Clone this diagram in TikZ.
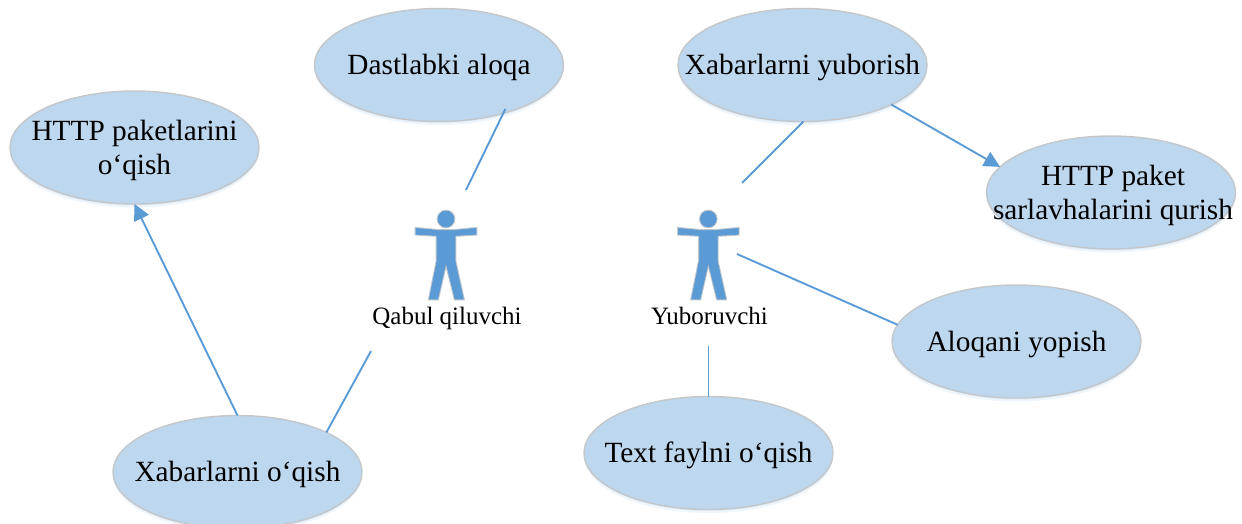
\documentclass[tikz,border=0pt]{standalone}
\usepackage{fontspec}
\setmainfont{Liberation Serif}
\usetikzlibrary{arrows.meta,shapes.geometric,shadows}
\definecolor{linkblue}{HTML}{5B9BD5}
\definecolor{ellfill}{HTML}{BDD7EE}
\definecolor{ellrim}{HTML}{C4C7CA}
\newcommand{\etext}[1]{\makebox[0pt]{\raisebox{-9pt}[0pt][0pt]{\begin{tabular}{@{}c@{}}#1\end{tabular}}}}
\tikzset{
  usecase/.style={ellipse,draw=ellrim,line width=1.4pt,fill=ellfill,minimum width=249pt,minimum height=113pt,
    inner sep=0pt,outer sep=0pt,font=\fontsize{29.3}{34}\selectfont,text=black,
    general shadow={fill=linkblue,opacity=.10,shadow yshift=-3.5pt},
    general shadow={fill=linkblue,opacity=.10,shadow yshift=-1.5pt}},
  link/.style={draw=linkblue,line width=1.9pt},
  flow/.style={link,-{Triangle[length=16pt,width=16pt]}},
  rolelabel/.style={font=\fontsize{25}{30}\selectfont,text=black,inner sep=0pt,anchor=base},
  actorbody/.style={preaction={draw=ellrim,line width=2.6pt},fill=linkblue,draw=linkblue,line width=.6pt,line join=round},
  pics/actor/.style={code={
    \path[actorbody] (0,0) circle (8);
    \path[actorbody] (-30,9.3) -- (-9,11.3) -- (9,11.3) -- (30,9.3) -- (30,15.3) -- (9,16.5)
      -- (9,42) -- (17.4,80) -- (9,80) -- (0,43.7) -- (-8.3,80) -- (-16.7,80) -- (-9,42)
      -- (-9,16.5) -- (-30,15.3) -- cycle;
  }}
}
\begin{document}
\begin{tikzpicture}[x=1pt,y=-1pt]
\useasboundingbox (0,0) rectangle (1242,524);
\node[usecase] (dast) at (439,65) {\etext{Dastlabki aloqa}};
\node[usecase] (httpr) at (134.5,147.5) {\etext{HTTP paketlarini\\o‘qish}};
\node[usecase] (xaby) at (802.5,65) {\etext{Xabarlarni yuborish}};
\node[usecase] (https) at (1111,192.5) {\etext{\hspace{4pt}HTTP paket\\\hspace{4pt}sarlavhalarini qurish}};
\node[usecase] (aloq) at (1016.5,341.5) {\etext{Aloqani yopish}};
\node[usecase] (textf) at (708.5,453) {\etext{Text faylni o‘qish}};
\node[usecase] (xabo) at (237.5,472) {\etext{Xabarlarni o‘qish}};
\pic at (446,219) {actor};
\pic at (708.3,219) {actor};
\node[rolelabel] (qabul) at (447,324.5) {Qabul qiluvchi};
\node[rolelabel] (yubor) at (709.5,324.5) {Yuboruvchi};
\coordinate (endA) at (466,190);
\coordinate (endB) at (742,183);
\coordinate (endC) at (737,254);
\coordinate (endD) at (708.5,346);
\coordinate (endE) at (371,351);
\draw[link,shorten <=-5pt] (dast.-37) -- (endA);
\draw[link] (xaby.-89) -- (endB);
\draw[link] (aloq.172.6) -- (endC);
\draw[link] (textf.north) -- (endD);
\draw[link] (xabo.24.6) -- (endE);
\draw[flow] (xaby.-24.9) -- (https.167.8);
\draw[flow] (xabo.north) -- (httpr.south);
\end{tikzpicture}
\end{document}
